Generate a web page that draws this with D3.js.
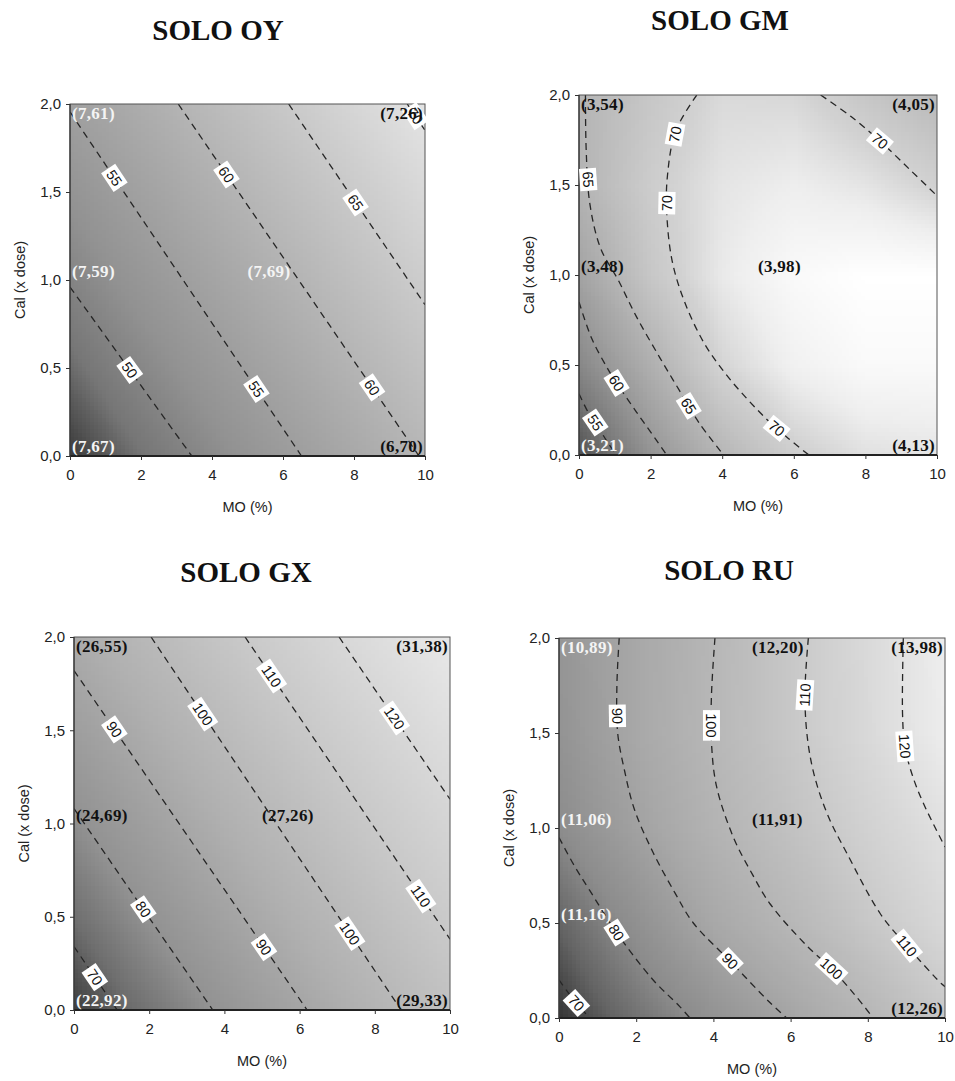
<!DOCTYPE html>
<html><head><meta charset="utf-8">
<script src="https://cdn.jsdelivr.net/npm/d3@7"></script>
<style>body{margin:0;background:#fff} svg{display:block}</style>
</head><body>
<script>
// ---------- shared axes ----------
const moTicks = [0, 2, 4, 6, 8, 10];
const calTicks = [0, 0.5, 1, 1.5, 2];
const gridMO = [0, 2, 4, 6, 8, 10];
const gridCal = [0, 0.5, 1, 1.5, 2];
const xTitle = "MO (%)";
const yTitle = "Cal (x dose)";

// ---------- SOLO OY ----------
const oyTitle = "SOLO OY";
const oyGrid = [ // rows: Cal 0,0.5,1,1.5,2 ; cols: MO 0..10
  [44.6, 47.8, 50.9, 54.0, 57.1, 60.3],
  [47.3, 50.4, 53.5, 56.6, 59.8, 62.9],
  [49.9, 53.0, 56.1, 59.2, 62.4, 65.5],
  [52.4, 55.5, 58.7, 61.8, 64.9, 68.0],
  [55.1, 58.1, 61.3, 64.4, 67.5, 70.6]
];
const oyContours = [
  {level: 50, pts: [[0, 0.96], [3.43, 0]]},
  {level: 55, pts: [[0, 1.955], [6.52, 0]]},
  {level: 60, pts: [[3.05, 2], [9.83, 0]]},
  {level: 65, pts: [[6.16, 2], [10, 0.86]]},
  {level: 70, pts: [[9.5, 2], [10, 1.85]]}
];
const oyLabels = [[55, 1.25, 1.58], [55, 5.25, 0.38], [60, 4.41, 1.60], [60, 8.51, 0.39],
                  [65, 8.04, 1.44], [50, 1.76, 0.50], [70, 9.72, 1.93]];
const oyAnno = [[0, 2, "(7,61)"], [10, 2, "(7,26)"], [0, 1, "(7,59)"], [5, 1, "(7,69)"],
                [0, 0, "(7,67)"], [10, 0, "(6,70)"]];
const oyAnnoLight = [true, false, true, true, true, false];

// ---------- SOLO GM ----------
const gmTitle = "SOLO GM";
const gmGrid = [
  [50.0, 59.0, 65.0, 69.3, 71.5, 72.0],
  [57.0, 63.8, 70.2, 73.5, 75.0, 75.0],
  [61.5, 68.0, 72.5, 75.0, 76.0, 76.0],
  [64.5, 69.0, 72.0, 73.0, 72.0, 69.8],
  [64.7, 68.0, 70.8, 70.6, 68.0, 65.5]
];
const gmContours = [
  {level: 55, pts: [[0, 0.34], [0.25, 0.24], [0.49, 0.17], [0.8, 0.07], [1.05, 0]]},
  {level: 60, pts: [[0, 0.85], [0.35, 0.65], [0.77, 0.49], [1.05, 0.40], [1.6, 0.24], [2.17, 0.08], [2.45, 0]]},
  {level: 65, pts: [[0.18, 2.0], [0.2, 1.7], [0.3, 1.4], [0.6, 1.15], [1.1, 0.97], [1.6, 0.77], [2.26, 0.54], [2.8, 0.36], [3.35, 0.18], [4.04, 0]]},
  {level: 70, pts: [[3.29, 2.0], [2.7, 1.8], [2.47, 1.55], [2.45, 1.35], [2.6, 1.08], [2.95, 0.85], [3.5, 0.62], [4.1, 0.45], [4.75, 0.3], [5.45, 0.16], [6.42, 0]]},
  {level: 70, pts: [[6.75, 2.0], [7.6, 1.88], [8.43, 1.74], [9.27, 1.58], [10, 1.44]]}
];
const gmLabels = [[70, 2.73, 1.78], [70, 2.40, 1.40], [70, 5.53, 0.15], [70, 8.43, 1.75],
                  [65, 0.21, 1.53], [65, 2.96, 0.26], [60, 1.05, 0.40], [55, 0.49, 0.185]];
const gmAnno = [[0, 2, "(3,54)"], [10, 2, "(4,05)"], [0, 1, "(3,48)"], [5, 1, "(3,98)"],
                [0, 0, "(3,21)"], [10, 0, "(4,13)"]];
const gmAnnoLight = [false, false, false, false, true, false];

// ---------- SOLO GX ----------
const gxTitle = "SOLO GX";
const gxGrid = [
  [65.4, 73.4, 81.3, 89.3, 97.2, 105.2],
  [72.2, 80.2, 88.1, 96.1, 104.0, 112.0],
  [79.0, 86.9, 94.9, 102.8, 110.8, 118.7],
  [85.8, 93.7, 101.7, 109.6, 117.6, 125.5],
  [92.6, 100.5, 108.5, 116.4, 124.4, 132.3]
];
const gxContours = [
  {level: 70, pts: [[0, 0.34], [1.15, 0]]},
  {level: 80, pts: [[0, 1.08], [3.69, 0]]},
  {level: 90, pts: [[0, 1.82], [6.2, 0]]},
  {level: 100, pts: [[2.05, 2], [8.7, 0]]},
  {level: 110, pts: [[4.55, 2], [10, 0.38]]},
  {level: 120, pts: [[7.05, 2], [10, 1.13]]}
];
const gxLabels = [[110, 5.25, 1.79], [100, 3.30, 1.57], [90, 1.04, 1.50], [120, 8.48, 1.56],
                  [110, 9.15, 0.60], [100, 7.34, 0.41], [90, 5.0, 0.33], [80, 1.84, 0.54], [70, 0.51, 0.17]];
const gxAnno = [[0, 2, "(26,55)"], [10, 2, "(31,38)"], [0, 1, "(24,69)"], [5, 1, "(27,26)"],
                [0, 0, "(22,92)"], [10, 0, "(29,33)"]];
const gxAnnoLight = [false, false, false, false, true, false];

// ---------- SOLO RU ----------
const ruTitle = "SOLO RU";
const ruGrid = [
  [66.0, 74.6, 82.4, 90.4, 99.4, 108.5],
  [72.0, 81.7, 92.0, 100.0, 108.5, 116.0],
  [80.0, 89.0, 98.0, 105.6, 113.0, 119.5],
  [83.0, 92.0, 100.3, 108.4, 116.3, 124.0],
  [84.0, 91.8, 99.8, 108.2, 116.5, 124.5]
];
const ruContours = [
  {level: 70, pts: [[0, 0.2], [0.4, 0.09], [0.8, 0]]},
  {level: 80, pts: [[0, 0.95], [0.4, 0.8], [0.8, 0.67], [1.49, 0.45], [2.44, 0.20], [3.13, 0.06], [3.39, 0]]},
  {level: 90, pts: [[1.56, 2], [1.5, 1.75], [1.52, 1.5], [1.7, 1.3], [1.95, 1.1], [2.44, 0.87], [3.0, 0.66], [3.48, 0.50], [4.43, 0.30], [5.47, 0.08], [5.9, 0]]},
  {level: 100, pts: [[4.04, 2], [3.95, 1.7], [3.95, 1.45], [4.08, 1.22], [4.52, 0.95], [5.0, 0.76], [5.47, 0.60], [6.42, 0.38], [7.06, 0.26], [7.63, 0.13], [8.14, 0]]},
  {level: 110, pts: [[6.46, 2], [6.37, 1.70], [6.45, 1.45], [6.65, 1.25], [7.0, 1.05], [7.45, 0.87], [8.32, 0.55], [9.01, 0.38], [9.91, 0.18], [10, 0.165]]},
  {level: 120, pts: [[8.92, 2], [8.9, 1.6], [8.96, 1.43], [9.15, 1.28], [9.44, 1.13], [10, 0.90]]}
];
const ruLabels = [[90, 1.49, 1.59], [100, 3.91, 1.54], [110, 6.37, 1.70], [120, 8.96, 1.43],
                  [80, 1.49, 0.45], [90, 4.43, 0.30], [100, 7.06, 0.26], [110, 9.01, 0.38], [70, 0.46, 0.08]];
const ruAnno = [[0, 2, "(10,89)"], [5, 2, "(12,20)"], [10, 2, "(13,98)"], [0, 1, "(11,06)"], [5, 1, "(11,91)"],
                [0, 0.5, "(11,16)"], [10, 0, "(12,26)"]];
const ruAnnoLight = [true, false, false, true, false, true, false];

// ---------- panel assembly ----------
const panels = [
  {title: oyTitle, grid: oyGrid, contours: oyContours, labels: oyLabels, anno: oyAnno, light: oyAnnoLight},
  {title: gmTitle, grid: gmGrid, contours: gmContours, labels: gmLabels, anno: gmAnno, light: gmAnnoLight},
  {title: gxTitle, grid: gxGrid, contours: gxContours, labels: gxLabels, anno: gxAnno, light: gxAnnoLight},
  {title: ruTitle, grid: ruGrid, contours: ruContours, labels: ruLabels, anno: ruAnno, light: ruAnnoLight}
];

// layout and style (not data)
const layout = [
  {left: 70, right: 425, top: 104, bottom: 456, tx: 218, ty: 40,
   shadeV: [44.6, 48, 52, 58, 64, 70.6], shadeG: [58, 118, 146, 172, 198, 228]},
  {left: 579, right: 937, top: 95, bottom: 455, tx: 720, ty: 30,
   shadeV: [50, 55, 60, 65, 70, 73, 76], shadeG: [80, 122, 154, 182, 210, 238, 255]},
  {left: 74, right: 450, top: 637, bottom: 1010, tx: 246, ty: 582,
   shadeV: [65.4, 72, 80, 95, 110, 132.3], shadeG: [60, 110, 146, 176, 200, 232]},
  {left: 559, right: 945, top: 638, bottom: 1018, tx: 729, ty: 580,
   shadeV: [66, 72, 80, 92, 105, 116, 124.5], shadeG: [52, 100, 140, 168, 192, 216, 238]}
];

const W = 955, H = 1081;
const svg = d3.select("body").append("svg").attr("width", W).attr("height", H);
const defs = svg.append("defs");
const fmt = d => d3.format(".1f")(d).replace(".", ",");
const SANS = "Liberation Sans, Arial, sans-serif";
const SERIF = "Liberation Serif, Times New Roman, serif";

function bilinear(grid, mx, cy) {
  let i = d3.bisectRight(gridMO, mx) - 1; i = Math.max(0, Math.min(gridMO.length - 2, i));
  let j = d3.bisectRight(gridCal, cy) - 1; j = Math.max(0, Math.min(gridCal.length - 2, j));
  const tx = (mx - gridMO[i]) / (gridMO[i + 1] - gridMO[i]);
  const ty = (cy - gridCal[j]) / (gridCal[j + 1] - gridCal[j]);
  const a = grid[j][i], b = grid[j][i + 1], c = grid[j + 1][i], d = grid[j + 1][i + 1];
  return a * (1 - tx) * (1 - ty) + b * tx * (1 - ty) + c * (1 - tx) * ty + d * tx * ty;
}

function nearestOnPolyline(pp, q) {
  let best = {d: Infinity};
  for (let s = 0; s < pp.length - 1; s++) {
    const [x1, y1] = pp[s], [x2, y2] = pp[s + 1];
    const dx = x2 - x1, dy = y2 - y1;
    let t = ((q[0] - x1) * dx + (q[1] - y1) * dy) / (dx * dx + dy * dy);
    t = Math.max(0, Math.min(1, t));
    const px = x1 + t * dx, py = y1 + t * dy;
    const d = Math.hypot(q[0] - px, q[1] - py);
    if (d < best.d) best = {d, px, py, ang: Math.atan2(dy, dx) * 180 / Math.PI};
  }
  return best;
}

panels.forEach((p, k) => {
  const L = layout[k];
  const x = d3.scaleLinear().domain([0, 10]).range([L.left, L.right]);
  const y = d3.scaleLinear().domain([0, 2]).range([L.bottom, L.top]);
  const color = d3.scaleLinear().domain(L.shadeV)
    .range(L.shadeG.map(v => d3.rgb(v, v, v))).clamp(true);
  const g = svg.append("g");
  const clipId = "clip" + k;
  defs.append("clipPath").attr("id", clipId).append("rect")
    .attr("x", L.left).attr("y", L.top).attr("width", L.right - L.left).attr("height", L.bottom - L.top);

  // background shading
  const nx = 90, ny = 90;
  const cells = [];
  for (let a = 0; a < nx; a++) for (let b = 0; b < ny; b++) {
    const mx = 10 * (a + 0.5) / nx, cy = 2 * (b + 0.5) / ny;
    cells.push({x0: 10 * a / nx, x1: 10 * (a + 1) / nx, y0: 2 * b / ny, y1: 2 * (b + 1) / ny, v: bilinear(p.grid, mx, cy)});
  }
  g.append("g").attr("clip-path", `url(#${clipId})`).selectAll("rect").data(cells).join("rect")
    .attr("x", d => x(d.x0)).attr("y", d => y(d.y1))
    .attr("width", d => x(d.x1) - x(d.x0) + 0.7).attr("height", d => y(d.y0) - y(d.y1) + 0.7)
    .attr("fill", d => color(d.v)).attr("shape-rendering", "crispEdges");

  // contour lines
  const line = d3.line().x(d => x(d[0])).y(d => y(d[1])).curve(d3.curveCatmullRom.alpha(0.5));
  g.append("g").attr("clip-path", `url(#${clipId})`).selectAll("path").data(p.contours).join("path")
    .attr("d", d => line(d.pts)).attr("fill", "none").attr("stroke", "#262626")
    .attr("stroke-width", 1.3).attr("stroke-dasharray", "7,5");

  // frame
  g.append("rect").attr("x", L.left).attr("y", L.top)
    .attr("width", L.right - L.left).attr("height", L.bottom - L.top)
    .attr("fill", "none").attr("stroke", "#555").attr("stroke-width", 1);
  g.append("line").attr("x1", L.left).attr("x2", L.right).attr("y1", L.bottom).attr("y2", L.bottom)
    .attr("stroke", "#222").attr("stroke-width", 1.8);
  g.append("line").attr("x1", L.left).attr("x2", L.left).attr("y1", L.top).attr("y2", L.bottom)
    .attr("stroke", "#333").attr("stroke-width", 1.2);

  // contour labels
  const lg = g.append("g");
  p.labels.forEach(([lev, lx, ly]) => {
    const cands = p.contours.filter(c => c.level === lev);
    const q = [x(lx), y(ly)];
    let best = {d: Infinity};
    cands.forEach(c => {
      const r = nearestOnPolyline(c.pts.map(d => [x(d[0]), y(d[1])]), q);
      if (r.d < best.d) best = r;
    });
    let ang = best.ang;
    if (ang > 90) ang -= 180;
    if (ang <= -90) ang += 180;
    const txt = String(lev);
    const w = txt.length * 8.2 + 6, h = 17;
    const lab = lg.append("g").attr("transform", `translate(${best.px},${best.py}) rotate(${ang})`);
    lab.append("rect").attr("x", -w / 2).attr("y", -h / 2).attr("width", w).attr("height", h).attr("fill", "#fff");
    lab.append("text").attr("text-anchor", "middle").attr("dy", "0.36em")
      .attr("font-family", SANS).attr("font-size", 14.5)
      .attr("fill", "#111").text(txt);
  });

  // value annotations
  g.append("g").selectAll("text").data(p.anno).join("text")
    .attr("x", d => d[0] === 0 ? x(d[0]) + 2 : d[0] === 10 ? x(d[0]) - 2 : x(d[0]))
    .attr("y", d => d[1] === 2 ? y(d[1]) + 15 : d[1] === 0 ? y(d[1]) - 4 : y(d[1]) - 3)
    .attr("text-anchor", d => d[0] === 10 ? "end" : "start")
    .attr("font-family", SERIF).attr("font-weight", "bold")
    .attr("font-size", 17).attr("letter-spacing", 0.3)
    .attr("fill", (d, i) => p.light[i] ? "#f4f4f4" : "#111").text(d => d[2]);

  // axes
  const xa = g.append("g").attr("transform", `translate(0,${L.bottom})`)
    .call(d3.axisBottom(x).tickValues(moTicks).tickSize(4).tickPadding(9).tickFormat(d3.format("d")));
  const ya = g.append("g").attr("transform", `translate(${L.left},0)`)
    .call(d3.axisLeft(y).tickValues(calTicks).tickSize(4).tickPadding(5).tickFormat(fmt));
  [xa, ya].forEach(a => {
    a.select(".domain").remove();
    a.selectAll("line").attr("stroke", "#333");
    a.selectAll("text").attr("font-family", SANS).attr("font-size", 15).attr("fill", "#222");
  });

  g.append("text").attr("x", (L.left + L.right) / 2).attr("y", L.bottom + 56)
    .attr("text-anchor", "middle").attr("font-family", SANS)
    .attr("font-size", 14.5).attr("fill", "#222").text(xTitle);
  g.append("text").attr("transform", `translate(${L.left - 50},${(L.top + L.bottom) / 2}) rotate(-90)`)
    .attr("text-anchor", "middle").attr("dy", "0.35em").attr("font-family", SANS)
    .attr("font-size", 14.5).attr("fill", "#222").text(yTitle);

  svg.append("text").attr("x", L.tx).attr("y", L.ty).attr("text-anchor", "middle")
    .attr("font-family", SERIF).attr("font-weight", "bold").attr("font-size", 29)
    .attr("fill", "#111").text(p.title);
});
</script>
</body></html>
